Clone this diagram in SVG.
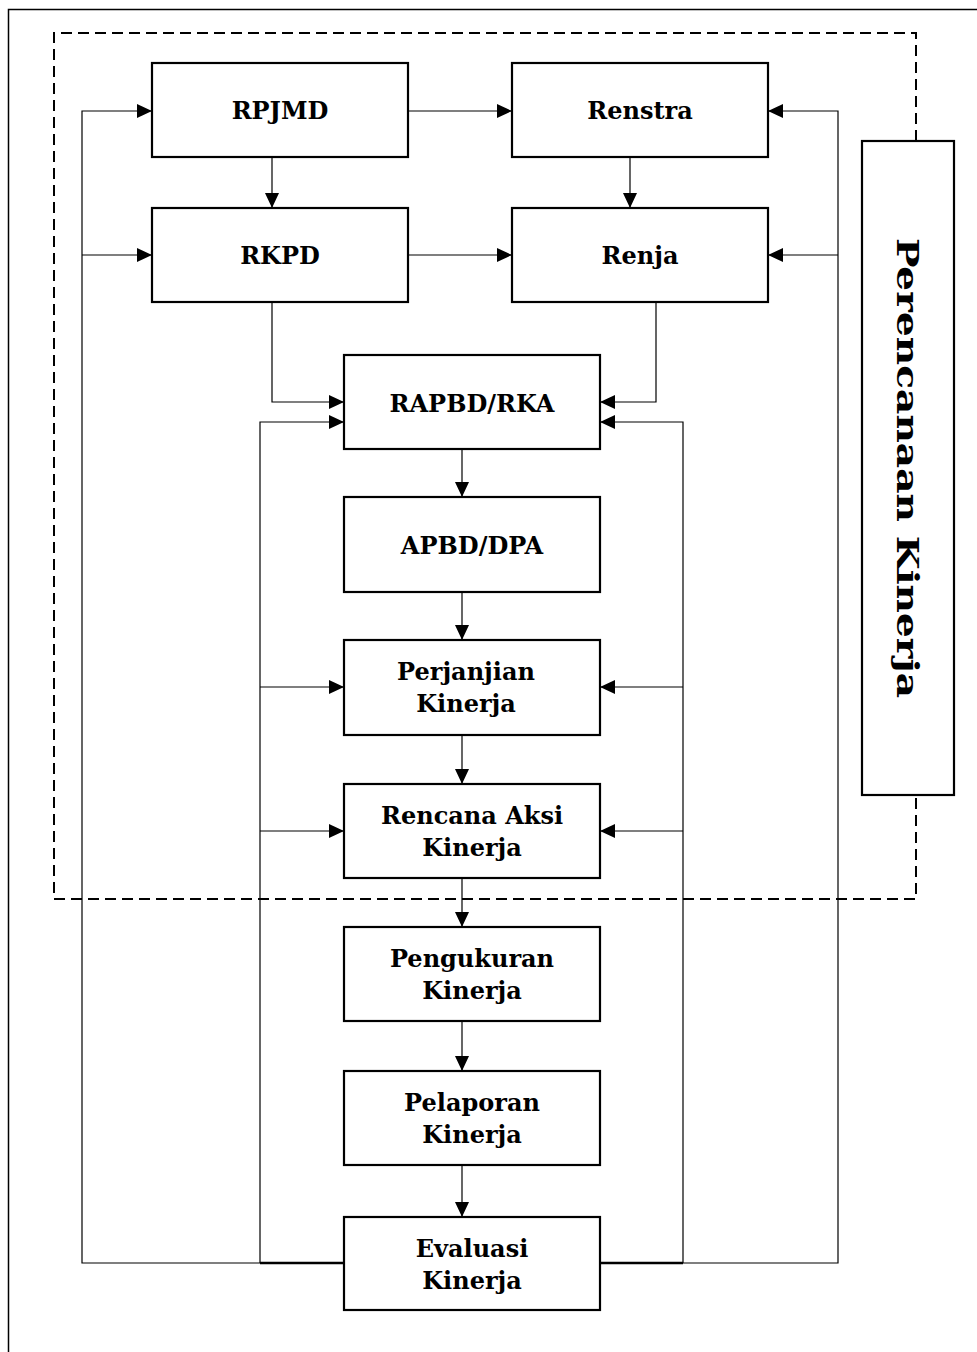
<svg xmlns="http://www.w3.org/2000/svg" width="977" height="1352" viewBox="0 0 977 1352">
<style>
.box{fill:#fff;stroke:#000;stroke-width:2.2}
.lbl{font-family:"DejaVu Serif","Liberation Serif",serif;font-weight:bold;font-size:24px;text-anchor:middle;fill:#000}
.c{fill:none;stroke:#000;stroke-width:1.2}
</style>
<defs>
<marker id="a" markerUnits="userSpaceOnUse" markerWidth="15" markerHeight="14" refX="15" refY="7" orient="auto">
<path d="M0,0 L15,7 L0,14 z" fill="#000"/>
</marker>
</defs>
<rect x="0" y="0" width="977" height="1352" fill="#fff"/>
<rect x="8.5" y="9.5" width="1000" height="1400" fill="none" stroke="#000" stroke-width="1.5"/>
<g id="frame">
<path d="M916,141 L916,33 L54,33 L54,899 L916,899 L916,795" fill="none" stroke="#000" stroke-width="2" stroke-dasharray="11,6"/>
</g>
<g id="connectors">
<path class="c" d="M408,111 L512,111" marker-end="url(#a)"/>
<path class="c" d="M408,255 L512,255" marker-end="url(#a)"/>
<path class="c" d="M272,157 L272,208" marker-end="url(#a)"/>
<path class="c" d="M630,157 L630,208" marker-end="url(#a)"/>
<path class="c" d="M272,302 L272,402 L344,402" marker-end="url(#a)"/>
<path class="c" d="M656,302 L656,402 L600,402" marker-end="url(#a)"/>
<path class="c" d="M462,449 L462,497" marker-end="url(#a)"/>
<path class="c" d="M462,592 L462,640" marker-end="url(#a)"/>
<path class="c" d="M462,735 L462,784" marker-end="url(#a)"/>
<path class="c" d="M462,878 L462,927" marker-end="url(#a)"/>
<path class="c" d="M462,1021 L462,1071" marker-end="url(#a)"/>
<path class="c" d="M462,1165 L462,1217" marker-end="url(#a)"/>
<path class="c" d="M344,1263 L82,1263 L82,111 L152,111" marker-end="url(#a)"/>
<path class="c" d="M82,255 L152,255" marker-end="url(#a)"/>
<path class="c" d="M260,1263 L260,422 L344,422" marker-end="url(#a)"/>
<path class="c" d="M260,687 L344,687" marker-end="url(#a)"/>
<path class="c" d="M260,831 L344,831" marker-end="url(#a)"/>
<path class="c" d="M600,1263 L838,1263 L838,111 L768,111" marker-end="url(#a)"/>
<path class="c" d="M838,255 L768,255" marker-end="url(#a)"/>
<path class="c" d="M683,1263 L683,422 L600,422" marker-end="url(#a)"/>
<path class="c" d="M683,687 L600,687" marker-end="url(#a)"/>
<path class="c" d="M683,831 L600,831" marker-end="url(#a)"/>
<path d="M260,1263 L344,1263 M600,1263 L683,1263" stroke="#000" stroke-width="2.5" fill="none"/>
</g>
<g id="rpjmd"><rect class="box" x="152" y="63" width="256" height="94"/><text class="lbl" x="280" y="119">RPJMD</text></g>
<g id="renstra"><rect class="box" x="512" y="63" width="256" height="94"/><text class="lbl" x="640" y="119">Renstra</text></g>
<g id="rkpd"><rect class="box" x="152" y="208" width="256" height="94"/><text class="lbl" x="280" y="264">RKPD</text></g>
<g id="renja"><rect class="box" x="512" y="208" width="256" height="94"/><text class="lbl" x="640" y="264">Renja</text></g>
<g id="rapbd"><rect class="box" x="344" y="355" width="256" height="94"/><text class="lbl" x="472" y="412">RAPBD/RKA</text></g>
<g id="apbd"><rect class="box" x="344" y="497" width="256" height="95"/><text class="lbl" x="472" y="554">APBD/DPA</text></g>
<g id="perjanjian"><rect class="box" x="344" y="640" width="256" height="95"/><text class="lbl" x="466" y="680">Perjanjian</text><text class="lbl" x="466" y="712">Kinerja</text></g>
<g id="rencana"><rect class="box" x="344" y="784" width="256" height="94"/><text class="lbl" x="472" y="824">Rencana Aksi</text><text class="lbl" x="472" y="856">Kinerja</text></g>
<g id="pengukuran"><rect class="box" x="344" y="927" width="256" height="94"/><text class="lbl" x="472" y="967">Pengukuran</text><text class="lbl" x="472" y="999">Kinerja</text></g>
<g id="pelaporan"><rect class="box" x="344" y="1071" width="256" height="94"/><text class="lbl" x="472" y="1111">Pelaporan</text><text class="lbl" x="472" y="1143">Kinerja</text></g>
<g id="evaluasi"><rect class="box" x="344" y="1217" width="256" height="93"/><text class="lbl" x="472" y="1257">Evaluasi</text><text class="lbl" x="472" y="1289">Kinerja</text></g>
<g id="perencanaan"><rect class="box" x="862" y="141" width="92" height="654"/><text class="lbl" style="font-size:30px" transform="translate(897,468) rotate(90)" x="0" y="0" textLength="460" lengthAdjust="spacingAndGlyphs">Perencanaan Kinerja</text></g>
</svg>
